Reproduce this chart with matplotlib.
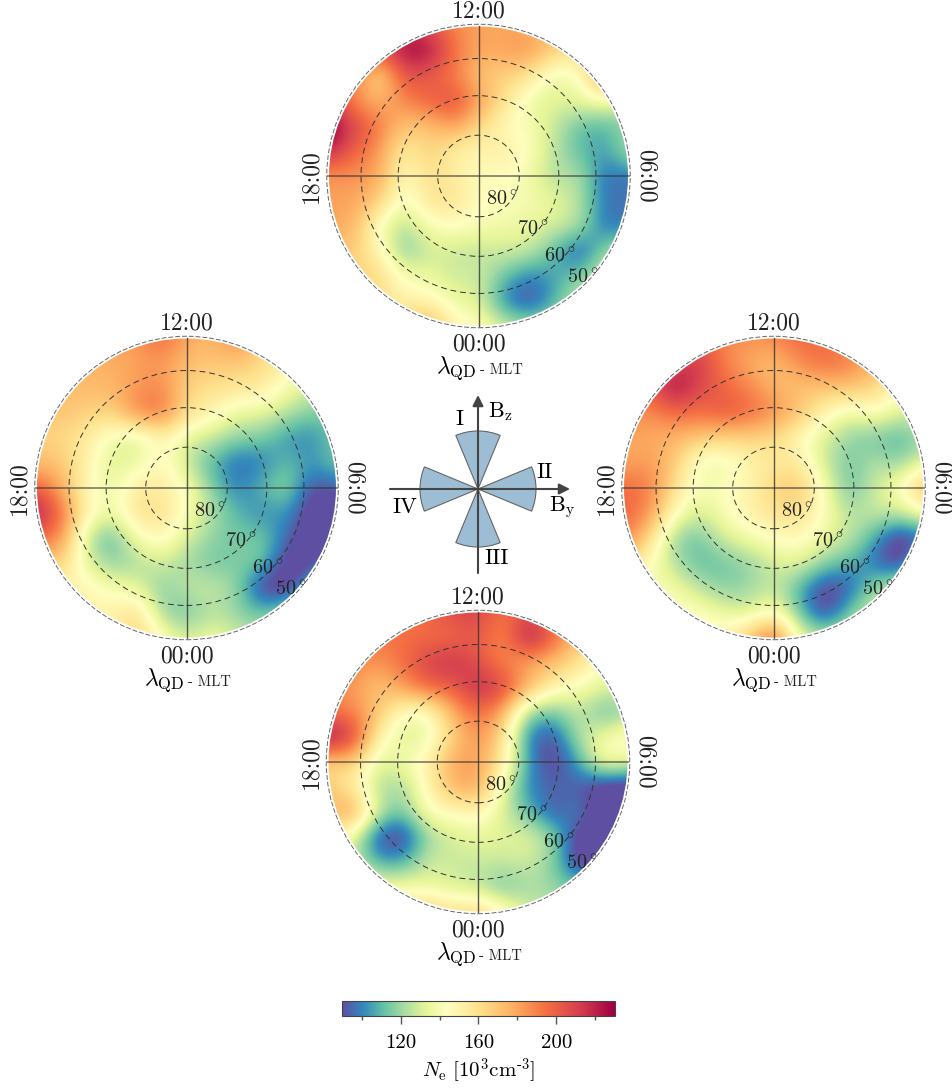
import numpy as np
import matplotlib
matplotlib.use("Agg")
import matplotlib.pyplot as plt
from matplotlib.colors import LinearSegmentedColormap, Normalize
from matplotlib.patches import Circle, Wedge

plt.rcParams["font.family"] = "cmr10"
plt.rcParams["mathtext.fontset"] = "cm"
plt.rcParams["axes.formatter.use_mathtext"] = True

W, H = 952, 1091

# electron density, 10^3 cm^-3, read on a 13x13 cartesian grid (top row = 12 MLT side)
ne_top = [
    [185, 190, 200, 215, 205, 187, 180, 180, 178, 172, 170, 170, 170],
    [190, 195, 205, 228, 228, 195, 178, 182, 185, 165, 160, 165, 165],
    [200, 195, 155, 206, 200, 190, 170, 165, 158, 135, 140, 195, 195],
    [215, 185, 175, 188, 200, 208, 182, 160, 135, 132, 135, 140, 130],
    [235, 212, 192, 170, 170, 184, 162, 145, 140, 128, 110, 108, 118],
    [222, 198, 184, 150, 168, 150, 148, 155, 143, 125, 110, 104, 125],
    [182, 186, 180, 145, 160, 155, 145, 145, 138, 122, 125, 94, 98],
    [182, 180, 168, 135, 160, 158, 145, 142, 140, 135, 125, 96, 98],
    [180, 176, 140, 122, 140, 145, 140, 138, 135, 130, 125, 94, 100],
    [172, 168, 148, 113, 130, 128, 125, 130, 128, 110, 88, 120, 130],
    [165, 165, 165, 140, 135, 128, 130, 112, 98, 106, 115, 132, 135],
    [160, 160, 160, 150, 150, 135, 132, 98, 86, 108, 130, 135, 135],
    [160, 160, 160, 172, 180, 150, 145, 130, 125, 125, 130, 135, 135],
]
ne_left = [
    [178, 178, 178, 180, 185, 198, 180, 174, 192, 170, 165, 165, 165],
    [175, 175, 175, 178, 180, 184, 172, 170, 170, 163, 150, 145, 140],
    [172, 172, 174, 174, 184, 188, 165, 160, 158, 155, 140, 130, 125],
    [168, 172, 165, 165, 190, 196, 160, 150, 135, 135, 125, 116, 115],
    [165, 162, 155, 138, 130, 150, 133, 128, 118, 116, 102, 100, 115],
    [172, 170, 150, 130, 135, 150, 126, 108, 94, 98, 112, 103, 115],
    [200, 178, 145, 135, 155, 155, 143, 116, 98, 110, 122, 88, 95],
    [228, 194, 150, 135, 160, 160, 143, 123, 110, 100, 105, 80, 80],
    [195, 188, 125, 108, 140, 150, 130, 118, 113, 116, 95, 80, 85],
    [170, 165, 132, 116, 122, 130, 120, 113, 116, 116, 82, 85, 110],
    [155, 150, 150, 140, 135, 115, 128, 128, 120, 82, 80, 115, 125],
    [150, 150, 150, 150, 162, 120, 111, 125, 118, 112, 125, 130, 130],
    [150, 150, 150, 150, 168, 145, 130, 140, 130, 125, 125, 125, 125],
]
ne_right = [
    [190, 190, 195, 195, 190, 185, 190, 198, 192, 185, 175, 165, 160],
    [190, 195, 205, 218, 188, 178, 170, 188, 198, 192, 175, 160, 150],
    [195, 200, 232, 208, 198, 188, 175, 170, 170, 172, 165, 145, 140],
    [190, 185, 198, 194, 204, 198, 187, 172, 150, 135, 145, 132, 130],
    [180, 178, 175, 170, 165, 165, 162, 145, 130, 118, 113, 108, 120],
    [178, 184, 170, 137, 135, 150, 155, 155, 128, 113, 125, 116, 135],
    [197, 192, 160, 140, 143, 150, 165, 172, 140, 110, 128, 145, 178],
    [198, 188, 145, 128, 143, 150, 160, 160, 143, 123, 130, 128, 145],
    [192, 165, 118, 113, 130, 140, 145, 148, 135, 128, 106, 80, 92],
    [165, 145, 123, 110, 113, 118, 130, 135, 118, 108, 96, 80, 130],
    [145, 140, 140, 125, 116, 120, 128, 108, 83, 92, 120, 135, 135],
    [145, 145, 145, 145, 135, 130, 145, 112, 83, 116, 132, 135, 135],
    [145, 145, 145, 150, 150, 172, 204, 135, 130, 130, 135, 135, 135],
]
ne_bottom = [
    [190, 190, 190, 190, 198, 208, 212, 192, 204, 190, 170, 160, 150],
    [192, 192, 192, 195, 195, 195, 203, 184, 232, 198, 172, 160, 145],
    [188, 188, 185, 195, 212, 218, 204, 188, 178, 172, 160, 140, 135],
    [188, 184, 168, 184, 200, 200, 222, 210, 178, 150, 140, 135, 130],
    [192, 188, 172, 140, 140, 178, 198, 178, 116, 113, 128, 108, 118],
    [232, 215, 150, 130, 135, 165, 188, 160, 96, 88, 125, 140, 150],
    [162, 168, 130, 140, 150, 182, 182, 155, 103, 83, 106, 145, 135],
    [168, 152, 123, 120, 150, 177, 182, 135, 98, 96, 92, 78, 78],
    [172, 188, 128, 113, 145, 145, 150, 130, 110, 88, 104, 78, 78],
    [150, 135, 86, 82, 120, 130, 135, 132, 135, 120, 82, 78, 83],
    [130, 130, 106, 106, 130, 128, 128, 128, 130, 116, 82, 84, 100],
    [140, 140, 140, 140, 135, 130, 125, 110, 122, 120, 113, 120, 120],
    [150, 150, 150, 162, 172, 160, 167, 150, 130, 125, 120, 120, 120],
]

lat_rings = [80, 70, 60]
lat_labels = [80, 70, 60, 50]
cbar_major = [120, 160, 200]
cbar_minor = [100, 140, 180, 220]
vmin, vcentre, vmax = 90, 144, 230

# colour map: Spectral_r with its pale centre pulled down to vcentre
spectral = plt.get_cmap("Spectral_r")
f = (vcentre - vmin) / (vmax - vmin)
t = np.linspace(0, 1, 65)
pos = np.where(t < 0.5, t * 2 * f, f + (t - 0.5) * 2 * (1 - f))
cmap = LinearSegmentedColormap.from_list("ne", list(zip(pos, spectral(t))), N=512)
norm = Normalize(vmin, vmax)

fig = plt.figure(figsize=(W / 100, H / 100), dpi=100)
over = fig.add_axes([0, 0, 1, 1], zorder=5)
over.set_xlim(0, W)
over.set_ylim(H, 0)
over.axis("off")

R = 151
STEP = 25 / R


def dial(cx, cy, values):
    ax = fig.add_axes([(cx - R - 4) / W, 1 - (cy + R + 4) / H, (2 * R + 8) / W, (2 * R + 8) / H])
    ax.set_xlim(-(R + 4) / R, (R + 4) / R)
    ax.set_ylim(-(R + 4) / R, (R + 4) / R)
    ax.axis("off")
    half = 6.5 * STEP
    im = ax.imshow(values, extent=[-half, half, -half, half], cmap=cmap, norm=norm,
                   interpolation="bicubic", origin="upper")
    im.set_clip_path(Circle((0, 0), 0.99, transform=ax.transData))
    ax.add_patch(Circle((0, 0), 1.005, fill=False, ec="#666666", lw=0.7, ls=(0, (5, 2))))
    for lat in lat_rings:
        r = np.sin(np.radians(90 - lat)) / np.sin(np.radians(40))
        ax.add_patch(Circle((0, 0), r, fill=False, ec="#333333", lw=0.7, ls=(0, (6, 4))))
    ax.axhline(0, xmin=0.015, xmax=0.985, color="#333333", lw=1.4, alpha=0.55)
    ax.axvline(0, ymin=0.015, ymax=0.985, color="#333333", lw=1.0, alpha=0.8)

    over.text(cx, cy - 165, "12:00", ha="center", va="center", fontsize=17, color="#222222")
    over.text(cx, cy + 168, "00:00", ha="center", va="center", fontsize=17, color="#222222")
    over.text(cx - 167, cy, "18:00", ha="center", va="center", fontsize=17, rotation=90, color="#222222")
    over.text(cx + 167, cy, "06:00", ha="center", va="center", fontsize=17, rotation=-90, color="#222222")
    over.text(cx - 2, cy + 192, r"$\boldsymbol{\lambda}_{\mathrm{QD}}$", ha="right", va="center", fontsize=17)
    over.text(cx + 1, cy + 194, "- MLT", ha="left", va="center", fontsize=10.5, color="#222222")
    for lat, dx, dy in zip(lat_labels, [23, 54, 81, 104], [23, 53, 80, 101]):
        over.text(cx + dx, cy + dy, rf"${lat}^\circ$", ha="center", va="center", fontsize=14.5, color="#222222")
    return im


im = dial(478.5, 176, ne_top)
dial(186.5, 488, ne_left)
dial(773.5, 488, ne_right)
dial(478, 762, ne_bottom)

# IMF clock angle rose in the middle
rose_c = (478, 489)
for centre in [90, 0, 270, 180]:
    over.add_patch(Wedge(rose_c, 58, centre - 22.5, centre + 22.5, fc="#9dbdd4", ec="#666666", lw=0.8))
arrow = dict(arrowstyle="-|>", color="#444444", lw=1.5, mutation_scale=16, shrinkA=0, shrinkB=0)
over.annotate("", xy=(570, 489), xytext=(390, 489), arrowprops=arrow)
over.annotate("", xy=(478, 395), xytext=(478, 573), arrowprops=arrow)
over.text(459, 419, "I", ha="center", va="center", fontsize=16)
over.text(545, 472, "II", ha="center", va="center", fontsize=16)
over.text(497, 558, "III", ha="center", va="center", fontsize=16)
over.text(405, 507, "IV", ha="center", va="center", fontsize=16)
over.text(488, 412, r"B$_{\mathrm{z}}$", ha="left", va="center", fontsize=16)
over.text(549, 507, r"B$_{\mathrm{y}}$", ha="left", va="center", fontsize=16)

# colour bar
cax = fig.add_axes([342 / W, 1 - 1016 / H, 273 / W, 15 / H])
cb = fig.colorbar(plt.cm.ScalarMappable(norm=norm, cmap=cmap), cax=cax, orientation="horizontal")
cb.set_ticks(cbar_major)
cb.set_ticklabels([str(v) for v in cbar_major])
cb.ax.set_xticks(cbar_minor, minor=True)
cb.ax.tick_params(which="major", length=6, width=1, color="#555555", labelsize=15, pad=7)
cb.ax.tick_params(which="minor", length=3, width=1, color="#555555")
cb.outline.set_edgecolor("#444444")
cb.outline.set_linewidth(0.8)
cb.set_label(r"$N_{\mathrm{e}}\ [10^3\mathrm{cm}^{\text{-}3}]$", fontsize=15, labelpad=3)

fig.savefig("out.png", dpi=100)
plt.close()
